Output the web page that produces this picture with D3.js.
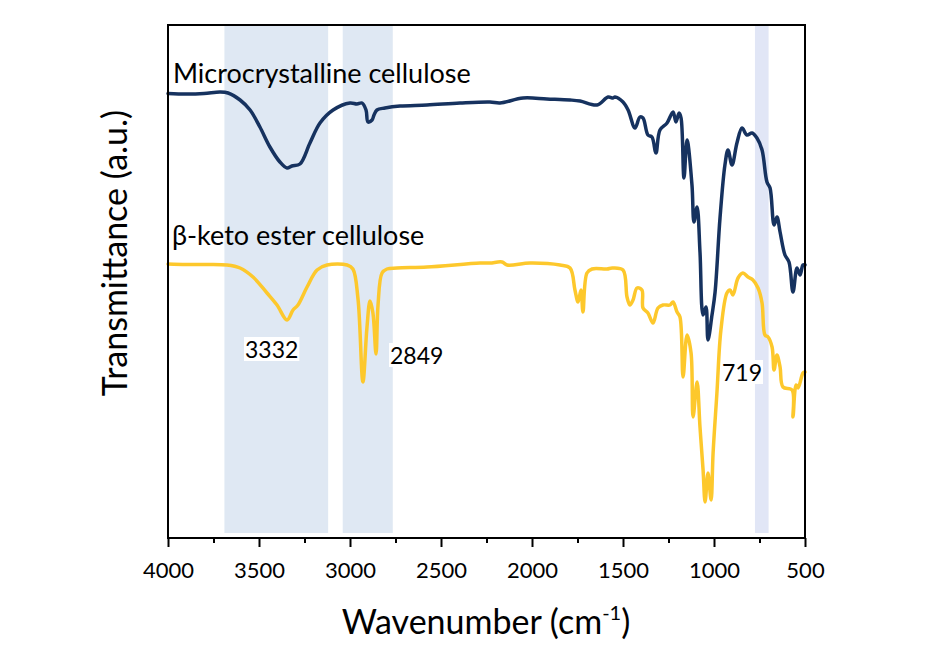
<!DOCTYPE html>
<html><head><meta charset="utf-8">
<script src="https://cdn.jsdelivr.net/npm/d3@7"></script>
<style>
body{margin:0;background:#fff;}
text{font-family:Lato,"Open Sans",sans-serif;fill:#000;}
</style>
</head><body>
<svg id="chart" width="939" height="650"></svg>
<script>
// ---- data (transmittance, arbitrary units, offset spectra) ----
const mccWavenumber = [4000,3901,3802,3714,3670,3604,3549,3495,3440,3385,3346,3319,3275,3220,3165,3093,3000,2962,2934,2912,2901,2879,2868,2852,2808,2725,2577,2396,2231,2176,2049,1918,1791,1736,1643,1582,1555,1544,1500,1472,1434,1407,1390,1363,1341,1319,1297,1258,1225,1209,1192,1181,1165,1148,1121,1110,1093,1077,1060,1044,1033,1011,994,967,940,923,901,874,846,819,791,764,736,709,692,670,654,637,610,588,566,544,527,511,500];
const mccValue = [88.7,88.6,88.7,89.0,88.8,87.4,85.4,82.0,78.0,75.0,73.8,74.2,74.6,78.8,82.8,85.4,86.8,86.6,86.8,85.4,83.0,83.4,84.4,85.4,85.8,86.2,86.4,86.8,87.0,86.8,87.8,87.6,87.4,87.2,86.4,88.0,87.8,88.0,87.0,85.4,81.8,84.0,83.8,80.4,80.0,76.8,81.4,82.8,85.0,83.0,84.8,83.8,71.8,79.4,70.4,63.0,66.0,57.0,44.4,46.0,39.4,44.4,49.0,63.8,74.4,77.4,74.4,78.8,81.8,80.4,80.8,79.8,77.4,71.0,69.8,62.4,64.0,61.0,56.4,55.0,49.0,53.8,52.4,54.4,54.4];

const ketoWavenumber = [4000,3901,3802,3676,3604,3533,3456,3401,3346,3313,3286,3236,3181,3126,3016,2984,2956,2929,2907,2890,2874,2857,2846,2824,2797,2742,2577,2286,2231,2165,2137,2011,1846,1791,1764,1747,1731,1720,1698,1670,1588,1560,1500,1478,1462,1445,1423,1396,1390,1363,1335,1308,1280,1242,1225,1203,1187,1170,1148,1126,1115,1093,1077,1060,1049,1033,1016,1005,984,962,929,912,896,868,841,813,786,758,736,720,703,681,670,654,637,621,571,566,549,538,511,500];
const ketoValue = [54.6,54.5,54.5,54.4,53.8,52.0,48.8,46.4,43.4,45.4,46.4,50.0,53.4,54.4,54.4,53.6,47.6,31.0,41.8,47.2,44.8,36.6,46.4,52.8,53.6,53.8,54.0,54.8,54.8,55.0,54.4,54.8,54.4,53.8,49.4,47.0,49.4,45.0,52.8,53.6,53.6,53.8,53.4,48.0,46.4,47.4,49.8,49.4,45.8,44.8,42.8,45.8,46.4,46.4,47.0,45.0,44.0,32.0,40.4,36.8,24.0,31.0,22.0,13.4,7.0,12.8,7.4,16.8,28.8,41.4,48.8,49.4,48.4,51.8,52.8,52.0,51.4,49.8,46.8,40.4,40.0,38.0,33.4,36.4,34.0,30.0,29.4,24.0,30.4,29.8,32.8,33.0];

const seriesNames = ["Microcrystalline cellulose", "\u03B2-keto ester cellulose"];
const seriesColors = ["#16325f", "#fdc82c"];
const bandStart = [3690, 3040, 775];
const bandEnd = [3120, 2765, 700];
const bandColors = ["#dfe8f3", "#dfe8f3", "#e1e6f6"];
const peakLabels = ["3332", "2849", "719"];
const xMajorTicks = [4000,3500,3000,2500,2000,1500,1000,500];
const xMinorTicks = [3750,3250,2750,2250,1750,1250,750];

// ---- layout ----
const svg = d3.select("#chart");
const L = 168, R = 805, T = 25, B = 538;
const x = d3.scaleLinear().domain([4000, 500]).range([L, R]);
const y = d3.scaleLinear().domain([0, 102.4]).range([537, T]);

// bands
svg.append("g").selectAll("rect").data(bandStart).join("rect")
  .attr("x", (d,i) => x(d))
  .attr("width", (d,i) => x(bandEnd[i]) - x(d))
  .attr("y", T).attr("height", 533 - T)
  .attr("fill", (d,i) => bandColors[i]);

// lines
const line = d3.line().x(d => x(d[0])).y(d => y(d[1])).curve(d3.curveCatmullRom.alpha(0.5));
const mcc = mccWavenumber.map((w,i) => [w, mccValue[i]]);
const keto = ketoWavenumber.map((w,i) => [w, ketoValue[i]]);
[mcc, keto].forEach((s, i) => {
  svg.append("path").datum(s).attr("d", line)
    .attr("fill", "none").attr("stroke", seriesColors[i])
    .attr("stroke-width", 3.5).attr("stroke-linejoin", "round").attr("stroke-linecap", "round");
});

// frame
svg.append("rect").attr("x", L).attr("y", T).attr("width", R - L).attr("height", B - T)
  .attr("fill", "none").attr("stroke", "#000").attr("stroke-width", 2);

// x axis
const ax = svg.append("g").attr("transform", `translate(0,${B})`)
  .call(d3.axisBottom(x).tickValues(xMajorTicks).tickSize(9).tickFormat(d3.format("d")));
ax.select(".domain").remove();
ax.selectAll(".tick line").attr("stroke", "#000").attr("stroke-width", 2);
ax.selectAll(".tick text").attr("font-size", 22).attr("dy", 0).attr("y", 40)
  .style("font-family", "Lato, sans-serif");
const axm = svg.append("g").attr("transform", `translate(0,${B})`)
  .call(d3.axisBottom(x).tickValues(xMinorTicks).tickSize(5).tickFormat(""));
axm.select(".domain").remove();
axm.selectAll(".tick line").attr("stroke", "#000").attr("stroke-width", 2);

// axis titles
const xt = svg.append("text").attr("x", 486).attr("y", 634)
  .attr("text-anchor", "middle").attr("font-size", 34);
xt.append("tspan").text("Wavenumber (cm");
xt.append("tspan").text("-1").attr("font-size", 20).attr("dy", -14);
xt.append("tspan").text(")").attr("dy", 14);

svg.append("text").attr("transform", "translate(127,253) rotate(-90)")
  .attr("text-anchor", "middle").attr("font-size", 34).text("Transmittance (a.u.)");

// series labels
svg.append("text").attr("x", 173).attr("y", 83).attr("font-size", 27).text(seriesNames[0]);
svg.append("text").attr("x", 172).attr("y", 245).attr("font-size", 27).text(seriesNames[1]);

// peak labels
const peakPos = [[245, 358], [390, 364], [722, 381]];
peakLabels.forEach((t, i) => {
  const g = svg.append("g");
  const tx = g.append("text").attr("x", peakPos[i][0]).attr("y", peakPos[i][1])
    .attr("font-size", 23).text(t);
  const bb = tx.node().getBBox();
  g.insert("rect", "text").attr("x", bb.x - 1).attr("y", bb.y + 2)
    .attr("width", bb.width + 2).attr("height", bb.height - 4).attr("fill", "#fff");
});
</script>
</body></html>
